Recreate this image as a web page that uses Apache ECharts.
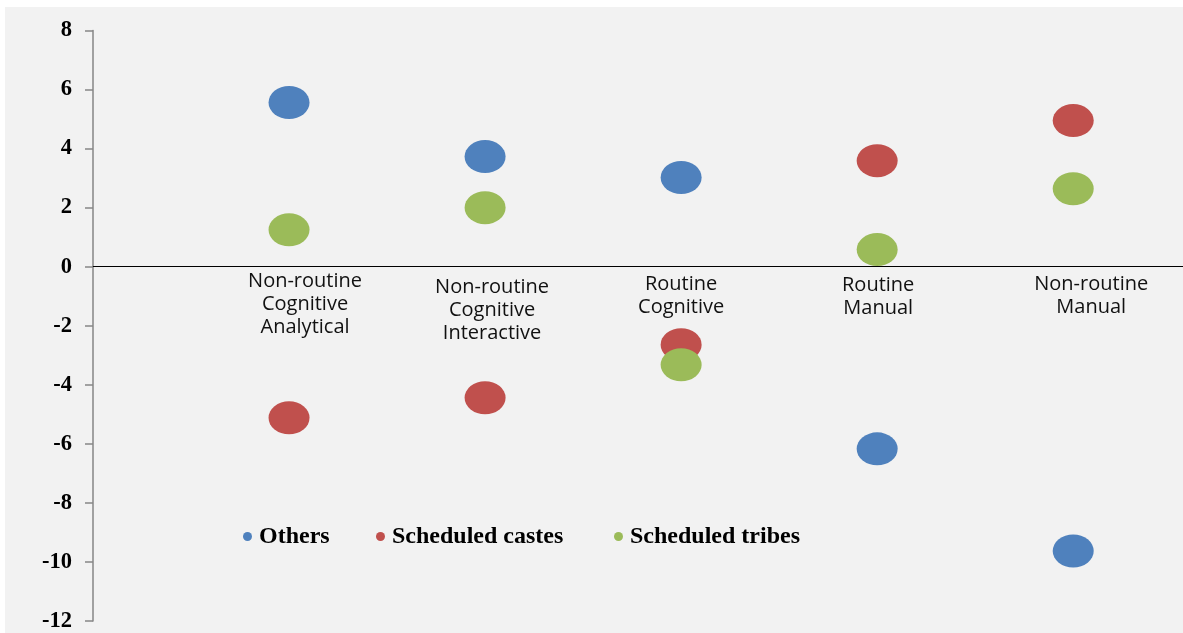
<!DOCTYPE html>
<html><head><meta charset="utf-8">
<script src="https://cdn.jsdelivr.net/npm/echarts@6/dist/echarts.min.js"></script>
<style>
html,body{margin:0;padding:0;background:#fff;width:1183px;height:633px;overflow:hidden}
#c{position:absolute;left:5px;top:7px;width:1178px;height:626px;background:#f2f2f2}
</style>
</head><body><div id="c"></div>
<script>
// ---- data ----
const categories = [
  'Non-routine\nCognitive\nAnalytical',
  'Non-routine\nCognitive\nInteractive',
  'Routine\nCognitive',
  'Routine\nManual',
  'Non-routine\nManual'
];
const seriesNames = ['Others', 'Scheduled castes', 'Scheduled tribes'];
const others = [5.56, 3.73, 3.02, -6.17, -9.63];
const scheduledCastes = [-5.12, -4.44, -2.64, 3.59, 4.95];
const scheduledTribes = [1.25, 2.0, -3.32, 0.58, 2.64];
const yMin = -12, yMax = 8, yInterval = 2;

// ---- styles ----
const colors = ['#4f81bd', '#c0504d', '#9bbb59'];
const labelShiftX = [16, 7, 0, 1, 18];
const labelShiftY = [0, 6, 3, 4, 3];
const legendTextWidths = [72, 177, 175];
const ellipse = 'path://M0,50A50,50,0,1,1,100,50A50,50,0,1,1,0,50Z';
const gridTop = 23.5, gridBottom = 12, chartH = 626;
const gridH = chartH - gridTop - gridBottom;
const zeroOffset = -gridH * (0 - yMin) / (yMax - yMin);
const lh = 23;

const rich = {};
categories.forEach((c, i) => {
  const base = {fontFamily: 'Open Sans', fontSize: 20, lineHeight: lh, color: '#111', align: 'center'};
  rich['l' + i] = Object.assign({}, base, {padding: [0, 0, 0, 2 * labelShiftX[i]]});
  rich['s' + i] = {fontSize: 1, lineHeight: labelShiftY[i], align: 'center'};
});

const valuesBySeries = [others, scheduledCastes, scheduledTribes];

const chart = echarts.init(document.getElementById('c'), null, {renderer: 'canvas'});
chart.setOption({
  backgroundColor: '#f2f2f2',
  animation: false,
  grid: {left: 88, right: 0, top: gridTop, bottom: gridBottom, containLabel: false, outerBoundsMode: 'none'},
  legend: {
    left: 238, top: 517.5, padding: 0,
    itemWidth: 13, itemHeight: 9, itemGap: 45,
    icon: ellipse,
    textStyle: {fontFamily: 'Liberation Serif', fontWeight: 'bold', fontSize: 24, color: '#000', lineHeight: 24},
    data: seriesNames.map((n, i) => ({name: n, textStyle: {width: legendTextWidths[i]}}))
  },
  xAxis: {
    type: 'value', min: 0, max: 5.56, interval: 1,
    position: 'bottom',
    offset: zeroOffset,
    splitLine: {show: false},
    axisTick: {show: false},
    axisLine: {show: true, onZero: false, lineStyle: {color: '#000', width: 1.2}},
    axisLabel: {
      margin: 3,
      showMaxLabel: false,
      formatter: function (v) {
        const idx = Math.round(v);
        if (Math.abs(v - idx) > 1e-6 || idx < 1 || idx > categories.length) return '';
        const i = idx - 1;
        const lines = categories[i].split('\n').map(t => '{l' + i + '|' + t + '}');
        if (labelShiftY[i] > 0) lines.unshift('{s' + i + '| }');
        return lines.join('\n');
      },
      rich: rich
    }
  },
  yAxis: {
    type: 'value', min: yMin, max: yMax, interval: yInterval,
    splitLine: {show: false},
    axisLine: {show: true, onZero: false, lineStyle: {color: '#868686', width: 1.5}},
    axisTick: {show: true, length: 8, inside: false, lineStyle: {color: '#868686', width: 1.5}},
    axisLabel: {fontFamily: 'Liberation Serif', fontWeight: 'bold', fontSize: 22.5, color: '#000', margin: 21}
  },
  series: seriesNames.map((n, s) => ({
    name: n,
    type: 'scatter',
    symbol: ellipse,
    symbolSize: [41, 33],
    itemStyle: {color: colors[s], opacity: 1},
    data: valuesBySeries[s].map((v, i) => [i + 1, v])
  }))
});
</script>
</body></html>
